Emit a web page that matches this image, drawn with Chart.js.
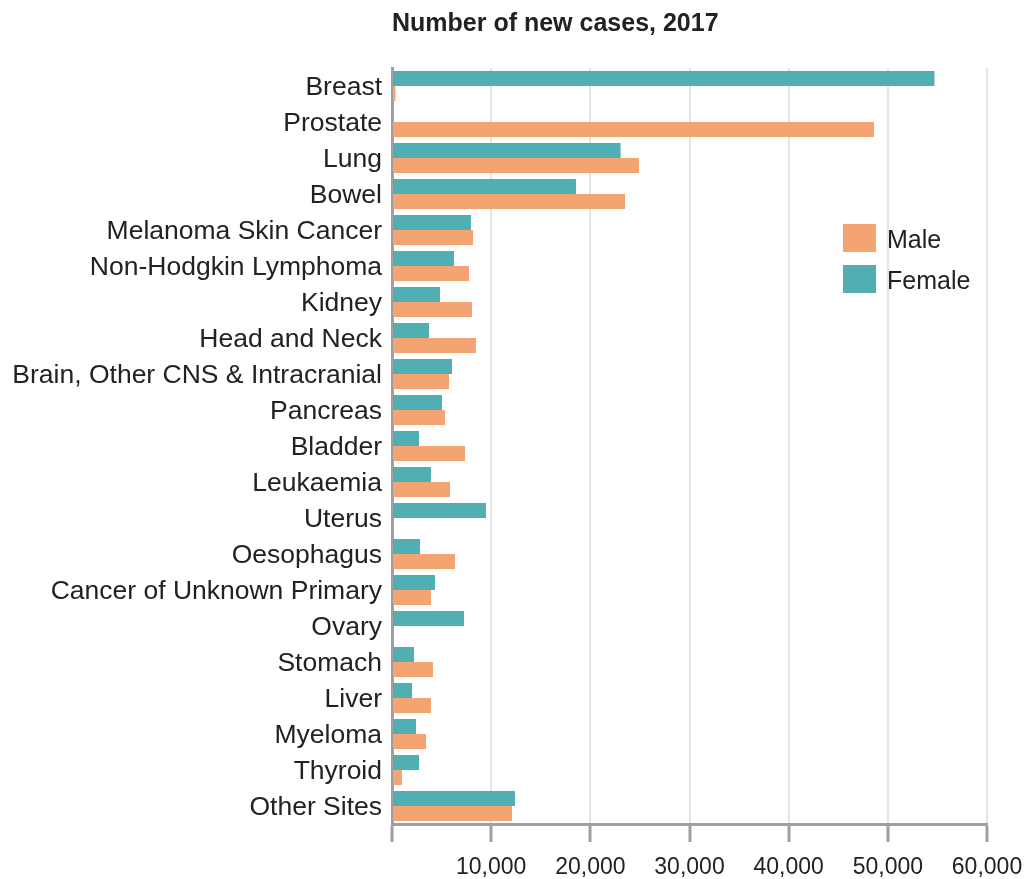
<!DOCTYPE html>
<html lang="en">
<head>
    <meta charset="UTF-8">
    <title>Number of new cases, 2017</title>
    <script src="https://cdn.jsdelivr.net/npm/chart.js"></script>
    <style>
        html, body { margin: 0; padding: 0; background: #fff; }
        .container { width: 1025px; height: 879px; position: relative; }
    </style>
</head>
<body>
    <div class="container">
        <canvas id="cases-chart"></canvas>
    </div>

    <script>
        const cancerSites = [
            'Breast', 'Prostate', 'Lung', 'Bowel', 'Melanoma Skin Cancer',
            'Non-Hodgkin Lymphoma', 'Kidney', 'Head and Neck',
            'Brain, Other CNS & Intracranial', 'Pancreas', 'Bladder', 'Leukaemia',
            'Uterus', 'Oesophagus', 'Cancer of Unknown Primary', 'Ovary',
            'Stomach', 'Liver', 'Myeloma', 'Thyroid', 'Other Sites'
        ];
        const femaleCases = [
            54700, 0, 23050, 18550, 7960,
            6250, 4840, 3730,
            6050, 5040, 2720, 3930,
            9480, 2820, 4330, 7260,
            2220, 2020, 2420, 2720, 12400
        ];
        const maleCases = [
            350, 48600, 24900, 23500, 8170,
            7760, 8070, 8470,
            5750, 5340, 7360, 5850,
            0, 6350, 3930, 0,
            4130, 3930, 3430, 1000, 12100
        ];
        const xTicks = [0, 10000, 20000, 30000, 40000, 50000, 60000];

        const FONT = '"Liberation Sans", Arial, Helvetica, sans-serif';
        const TEXT = '#222222';
        const AXIS = '#a0a0a0';

        // legend drawn inside the plot, Male first
        const sideLegend = {
            id: 'sideLegend',
            afterDraw(chart) {
                const ctx = chart.ctx;
                const sets = chart.data.datasets.slice().reverse();
                ctx.save();
                ctx.font = '25px ' + FONT;
                ctx.textBaseline = 'middle';
                sets.forEach((ds, i) => {
                    const top = 224 + i * 41;
                    ctx.fillStyle = ds.backgroundColor;
                    ctx.fillRect(843, top, 33, 28);
                    ctx.fillStyle = TEXT;
                    ctx.fillText(ds.label, 887, top + 17);
                });
                ctx.restore();
            }
        };

        const ctx = document.getElementById('cases-chart').getContext('2d');
        new Chart(ctx, {
            type: 'bar',
            data: {
                labels: cancerSites,
                datasets: [
                    {
                        label: 'Female',
                        data: femaleCases,
                        backgroundColor: '#4fafb2',
                        categoryPercentage: 0.834,
                        barPercentage: 1
                    },
                    {
                        label: 'Male',
                        data: maleCases,
                        backgroundColor: '#f4a372',
                        categoryPercentage: 0.834,
                        barPercentage: 1
                    }
                ]
            },
            options: {
                indexAxis: 'y',
                responsive: true,
                maintainAspectRatio: false,
                animation: false,
                plugins: {
                    legend: { display: false },
                    tooltip: { enabled: false },
                    title: {
                        display: true,
                        text: 'Number of new cases, 2017',
                        align: 'start',
                        fullSize: false,
                        color: TEXT,
                        font: { family: FONT, size: 25, weight: 'bold' },
                        padding: { top: 9, bottom: 29 }
                    }
                },
                scales: {
                    x: {
                        min: 0,
                        max: 60000,
                        afterBuildTicks: (scale) => {
                            scale.ticks = xTicks.map(v => ({ value: v }));
                        },
                        afterFit: (scale) => {
                            scale.height = 55;
                            scale.paddingRight = 38;
                        },
                        ticks: {
                            color: TEXT,
                            padding: 14,
                            maxRotation: 0,
                            font: { family: FONT, size: 23, lineHeight: 1 },
                            callback: (v) => v === 0 ? '' : v.toLocaleString('en-US')
                        },
                        grid: {
                            color: (c) => c.tick && c.tick.value === 0 ? 'rgba(0,0,0,0)' : '#e4e4e4',
                            lineWidth: 2,
                            tickColor: AXIS,
                            tickWidth: 3,
                            tickLength: 18
                        },
                        border: { color: AXIS, width: 3 }
                    },
                    y: {
                        afterFit: (scale) => { scale.width = 392; },
                        ticks: {
                            color: TEXT,
                            padding: 10,
                            labelOffset: 2,
                            font: { family: FONT, size: 26.5 }
                        },
                        grid: { display: false, drawTicks: false },
                        border: { color: AXIS, width: 3 }
                    }
                }
            },
            plugins: [sideLegend]
        });
    </script>
</body>
</html>
